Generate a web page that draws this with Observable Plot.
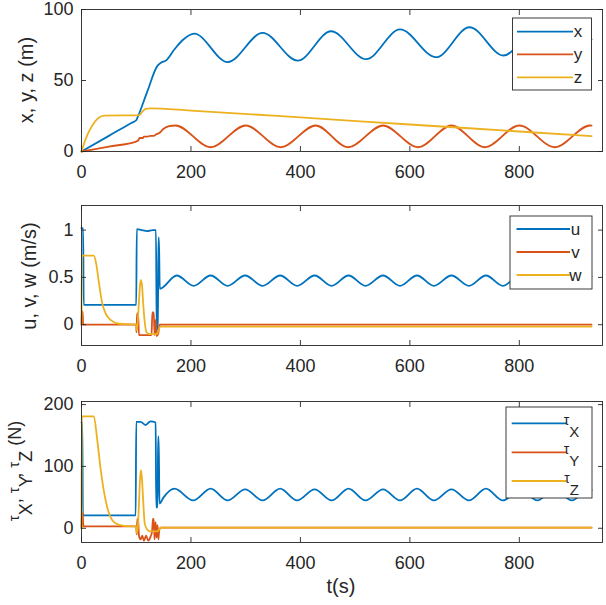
<!DOCTYPE html>
<html>
<head>
<meta charset="utf-8">
<script src="https://cdn.jsdelivr.net/npm/d3@7"></script>
<script src="https://cdn.jsdelivr.net/npm/@observablehq/plot@0.6"></script>
<style>
  body { margin: 0; background: white; }
  svg { display: block; }
</style>
</head>
<body>
<div id="chart"></div>
<script>
// ---- data (t in s, value) ----
const xTicks = [0, 200, 400, 600, 800];
const colors = ["#0072BD", "#D95319", "#EDB120"];

// Panel 1: positions (m)
const posX = [[0,0],[50,11],[92,20.3],[100,22],[103,24.5],[120,42],[139,60.5],[145,62.5],[154,64],[170,72],[185,78.5],[206,83],[267,63],[331,83.5],[395,64],[456,84.7],[520,65],[582,86],[648,66.4],[709,87.5],[771,67.6],[835,88.5],[897,68.5],[932,79]];
const posY = [[0,0],[50,3.5],[100,7],[104,8],[106,9.5],[112,9.5],[114,10.5],[120,10.5],[126,11],[132,11],[136,12],[142,13],[150,16],[160,17.8],[172,18.3],[236,3],[300,18.3],[364,3],[428,18.3],[487,3],[551,18.3],[615,3],[676,18.3],[737,3],[800,18.3],[865,3],[929,18.3],[932,18.2]];
const posZ = [[0,0],[5,6],[10,11],[15,15],[20,18.5],[29,23],[41,25.3],[105,25.5],[111,28],[117,30],[125,30.4],[200,28.8],[400,24],[600,19],[800,14.1],[932,10.8]];
const yTicks1 = [0, 50, 100];
const names1 = ["x", "y", "z"];

// Panel 2: velocities (m/s)
const velU = [[0,1.02],[3,1.02],[4,0.21],[100,0.21],[101,1.01],[110,1.0],[120,0.99],[130,1.0],[136,1.0],[137.5,-0.1],[139.5,-0.1],[140.5,0.92],[141.5,0.92],[143,0.38],[174,0.52],[205,0.41],[236,0.52],[267,0.41],[299,0.52],[331,0.41],[363,0.52],[394,0.41],[426,0.52],[457,0.41],[488,0.52],[519,0.41],[551,0.52],[582,0.41],[613,0.52],[644,0.41],[676,0.52],[708,0.41],[739,0.52],[770,0.41],[801,0.52],[833,0.41],[864,0.52],[896,0.41],[927,0.52],[932,0.51]];
const velV = [[0,0],[0.5,0.14],[2,0.14],[3,0],[100,0],[100.5,-0.08],[101.5,0.12],[103.5,0.12],[105,-0.11],[128,-0.11],[129.5,0.13],[132,0.13],[133.5,-0.11],[135.5,0.05],[137,-0.12],[140,-0.1],[143,0],[932,0]];
const velW = [[0,0],[0.5,0.73],[22.5,0.73],[27,0.64],[31.7,0.45],[37.7,0.23],[44,0.12],[53,0.05],[68,0.01],[100,0],[101,-0.06],[103,0.05],[105,0.25],[107,0.42],[108.5,0.47],[110.5,0.42],[113,0.2],[115.5,0.03],[119,-0.08],[125,-0.1],[138,-0.1],[141,-0.05],[144,-0.02],[932,-0.02]];
const yTicks2 = [0, 0.5, 1];
const names2 = ["u", "v", "w"];

// Panel 3: forces (N)
const tauX = [[0,171],[1.5,171],[2.5,21],[99,21],[100,172],[108,172],[117,167],[126,173],[135.5,171],[136.5,34],[139,34],[140,148],[141,148],[142.5,40],[150,50],[170,64],[204,45],[236,64],[267,45],[299,63],[331,45],[363,64],[394,45],[426,63],[457,45],[488,64],[519,45],[551,63],[582,45],[613,64],[644,45],[676,63],[708,45],[739,64],[770,45],[801,63],[833,45],[864,64],[896,45],[927,63],[932,62]];
const tauY = [[0,0],[0.5,25],[2,25],[3.5,3],[100,3],[101,-10],[102,15],[103.5,15],[105,-12],[108,-18],[111,-12],[114,-20],[118,-12],[122,-20],[126,-14],[129,-5],[130.5,15],[132,15],[133.5,-18],[135.5,10],[137,-15],[139,5],[140.5,-18],[142,-3],[145,1],[932,1]];
const tauZ = [[0,0],[0.5,181],[22.5,181],[28.5,145],[34.8,97],[40.9,60],[47,34],[53,18],[62,8],[77,4],[100,3],[101,-8],[103,2],[105,40],[107,80],[108.5,94],[110.5,80],[113,40],[115.5,8],[120,-2],[125,-5],[138,-5],[142,-2],[145,1],[932,1]];
const yTicks3 = [0, 100, 200];
const names3 = ["X", "Y", "Z"];

// ---- drawing ----
const FONT = "'Liberation Sans', Arial, Helvetica, sans-serif";
const INK = "#262626";

function panel({height, marginTop, marginBottom, yDomain, yTicks, series}) {
  return Plot.plot({
    width: 606, height, marginLeft: 81, marginRight: 4, marginTop, marginBottom,
    x: {domain: [0, 952]},
    y: {domain: yDomain},
    style: {fontFamily: FONT, fontSize: "18px", color: INK, background: "white"},
    marks: [
      ...series.map((s, i) => Plot.line(s, {x: d => d[0], y: d => d[1], stroke: colors[i], strokeWidth: 1.8, curve: "monotone-x"})),
      Plot.frame({stroke: INK, strokeWidth: 0.9}),
      Plot.axisX({ticks: xTicks, tickSize: -5, tickPadding: 18.5, label: null, tickFormat: d => String(d), strokeWidth: 0.9}),
      Plot.axisX({anchor: "top", ticks: xTicks, tickSize: -5, tickFormat: () => "", label: null, strokeWidth: 0.9}),
      Plot.axisY({ticks: yTicks, tickSize: -5, tickPadding: 13, label: null, tickFormat: d => String(d), strokeWidth: 0.9}),
      Plot.axisY({anchor: "right", ticks: yTicks, tickSize: -5, tickFormat: () => "", label: null, strokeWidth: 0.9})
    ]
  });
}

function legend(svg, box, rows, lineX1, lineX2, textX, labelFn) {
  const g = d3.select(svg).append("g");
  g.append("rect").attr("x", box[0]).attr("y", box[1]).attr("width", box[2]).attr("height", box[3])
    .attr("fill", "white").attr("stroke", INK).attr("stroke-width", 0.9);
  rows.forEach((ry, i) => {
    g.append("line").attr("x1", lineX1).attr("x2", lineX2).attr("y1", ry).attr("y2", ry)
      .attr("stroke", colors[i]).attr("stroke-width", 1.8);
    labelFn(g, textX, ry, i);
  });
}

const root = document.getElementById("chart");

// Panel 1
const s1 = panel({height: 195, marginTop: 9, marginBottom: 44, yDomain: [0, 100], yTicks: yTicks1, series: [posX, posY, posZ]});
root.appendChild(s1);
d3.select(s1).append("text").attr("transform", "translate(33,80) rotate(-90)").attr("text-anchor", "middle")
  .attr("font-family", FONT).attr("font-size", 20).attr("fill", INK).text("x, y, z (m)");
legend(s1, [512.5, 18, 79, 72], [31.7, 54.3, 77.3], 517, 573, 578, (g, x, y, i) => {
  g.append("text").attr("x", x).attr("y", y + 5.5).attr("font-family", FONT).attr("font-size", 17).attr("fill", INK).text(names1[i]);
});

// Panel 2
const s2 = panel({height: 190, marginTop: 10, marginBottom: 40, yDomain: [-0.22, 1.26], yTicks: yTicks2, series: [velU, velV, velW]});
root.appendChild(s2);
d3.select(s2).append("text").attr("transform", "translate(36,81) rotate(-90)").attr("text-anchor", "middle")
  .attr("font-family", FONT).attr("font-size", 20).attr("fill", INK).text("u, v, w (m/s)");
legend(s2, [510, 21, 82, 73], [34, 57, 80], 516.5, 570, 575.5, (g, x, y, i) => {
  g.append("text").attr("x", x).attr("y", y + 6).attr("font-family", FONT).attr("font-size", 17).attr("fill", INK).text(names2[i]);
});

// Panel 3
const s3 = panel({height: 220, marginTop: 16, marginBottom: 63, yDomain: [-23, 205], yTicks: yTicks3, series: [tauX, tauY, tauZ]});
root.appendChild(s3);
{
  const t = d3.select(s3).append("text").attr("transform", "translate(21,86) rotate(-90)").attr("text-anchor", "middle")
    .attr("font-family", FONT).style("font-size", "18px").attr("fill", INK).style("white-space", "pre");
  names3.forEach((n, i) => {
    t.append("tspan").style("font-size", "15px").attr("dy", -2).text("τ");
    t.append("tspan").style("font-size", "18px").attr("dy", 13).text(n);
    t.append("tspan").style("font-size", "18px").attr("dy", -11).text(i < 2 ? ", " : " (N)");
  });
  d3.select(s3).append("text").attr("x", 341).attr("y", 208).attr("text-anchor", "middle")
    .attr("font-family", FONT).attr("font-size", 20).attr("fill", INK).text("t(s)");
}
legend(s3, [506, 22, 86, 91], [38.3, 67.3, 96], 511.7, 566.7, 571.5, (g, x, y, i) => {
  const t = g.append("text").attr("x", x).attr("y", y + 2).attr("font-family", FONT).attr("fill", INK);
  t.append("tspan").style("font-size", "14px").text("τ");
  t.append("tspan").style("font-size", "15px").attr("dy", 12).text(names3[i]);
});
</script>
</body>
</html>
